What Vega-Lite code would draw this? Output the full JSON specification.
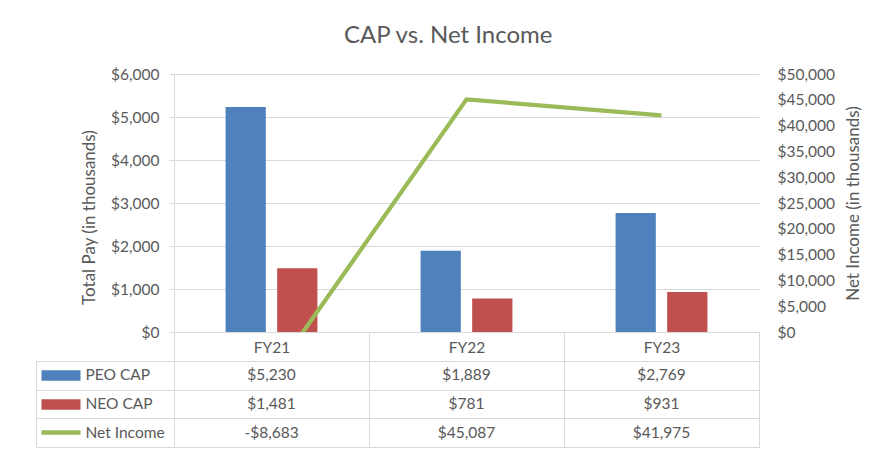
{
  "$schema": "https://vega.github.io/schema/vega-lite/v6.json",
  "padding": {"left": 35, "top": 24, "right": 5, "bottom": 5},
  "title": {"text": "CAP vs. Net Income", "fontSize": 24, "font": "Lato", "fontWeight": "normal", "color": "#595959", "anchor": "middle", "frame": "bounds", "offset": 19},
  "config": {
    "font": "Lato",
    "locale": {"number": {"decimal": ".", "thousands": ",", "grouping": [3], "currency": ["$", ""], "minus": "-"}},
    "axis": {"labelFont": "Lato", "titleFont": "Lato", "labelColor": "#595959", "titleColor": "#595959", "labelFontSize": 15.5, "titleFontSize": 17, "titleFontWeight": "normal", "domainColor": "#D9D9D9", "tickColor": "#D9D9D9", "gridColor": "#D9D9D9"}
  },
  "datasets": {
    "cap": [
      {"year": "FY21", "series": "PEO CAP", "value": 5230},
      {"year": "FY21", "series": "NEO CAP", "value": 1481},
      {"year": "FY21", "series": "Net Income", "value": -8683},
      {"year": "FY22", "series": "PEO CAP", "value": 1889},
      {"year": "FY22", "series": "NEO CAP", "value": 781},
      {"year": "FY22", "series": "Net Income", "value": 45087},
      {"year": "FY23", "series": "PEO CAP", "value": 2769},
      {"year": "FY23", "series": "NEO CAP", "value": 931},
      {"year": "FY23", "series": "Net Income", "value": 41975}
    ]
  },
  "spacing": 29,
  "bounds": "flush",
  "vconcat": [
    {
      "width": 585,
      "height": 258,
      "data": {"name": "cap"},
      "view": {"stroke": null},
      "layer": [
        {
          "transform": [{"filter": "datum.series !== 'Net Income'"}],
          "mark": {"type": "bar"},
          "encoding": {
            "x": {"field": "year", "type": "nominal", "scale": {"paddingInner": 0, "paddingOuter": 0},
                  "axis": {"title": null, "labelAngle": 0, "domain": true, "ticks": true, "tickBand": "extent", "tickSize": 29, "labelPadding": -14, "labelBaseline": "middle", "grid": false}},
            "xOffset": {"field": "series", "type": "nominal", "scale": {"domain": ["PEO CAP", "NEO CAP"], "paddingInner": 0.22, "paddingOuter": 1.06}},
            "y": {"field": "value", "type": "quantitative", "scale": {"domain": [0, 6000], "nice": false},
                  "axis": {"title": "Total Pay (in thousands)", "titleY": 143, "values": [0, 1000, 2000, 3000, 4000, 5000, 6000], "format": "$,.0f", "tickSize": 5, "labelPadding": 10, "titlePadding": 12, "grid": true, "domain": true}},
            "color": {"field": "series", "type": "nominal", "scale": {"domain": ["PEO CAP", "NEO CAP", "Net Income"], "range": ["#4F81BD", "#C0504D", "#9BBB59"]}, "legend": null}
          }
        },
        {
          "transform": [{"filter": "datum.series === 'Net Income'"}],
          "mark": {"type": "line", "clip": true, "color": "#9BBB59", "strokeWidth": 4.25},
          "encoding": {
            "x": {"field": "year", "type": "nominal"},
            "y": {"field": "value", "type": "quantitative", "scale": {"domain": [0, 50000], "nice": false},
                  "axis": {"orient": "right", "title": "Net Income (in thousands)", "titleAngle": 270, "values": [0, 5000, 10000, 15000, 20000, 25000, 30000, 35000, 40000, 45000, 50000], "format": "$,.0f", "ticks": false, "domain": false, "grid": false, "labelAlign": "left", "labelPadding": 18, "titlePadding": 28}}
          }
        }
      ],
      "resolve": {"scale": {"y": "independent"}}
    },
    {
      "width": 585,
      "height": 86,
      "data": {"name": "cap"},
      "view": {"stroke": "#D9D9D9"},
      "layer": [
        {
          "mark": {"type": "text", "fontSize": 15.5, "color": "#595959", "font": "Lato"},
          "encoding": {
            "x": {"field": "year", "type": "nominal", "scale": {"paddingInner": 0, "paddingOuter": 0},
                  "axis": {"title": null, "labels": false, "ticks": false, "domain": false, "grid": true, "tickBand": "extent"}},
            "y": {"field": "series", "type": "nominal", "scale": {"domain": ["PEO CAP", "NEO CAP", "Net Income"], "paddingInner": 0, "paddingOuter": 0},
                  "axis": {"orient": "left", "title": null, "offset": 94, "domain": false, "ticks": true, "tickBand": "center", "tickSize": 39, "grid": false,
                           "tickWidth": {"condition": {"test": "datum.value === 'Net Income'", "value": 4.5}, "value": 10.5},
                           "tickColor": {"condition": [{"test": "datum.value === 'PEO CAP'", "value": "#4F81BD"}, {"test": "datum.value === 'NEO CAP'", "value": "#C0504D"}], "value": "#9BBB59"},
                           "labelAlign": "left", "labelPadding": -44}},
            "text": {"field": "value", "type": "quantitative", "format": "$,.0f"}
          }
        },
        {
          "mark": {"type": "text", "text": ""},
          "encoding": {
            "y": {"field": "series", "type": "nominal",
                  "axis": {"orient": "left", "title": null, "offset": 138, "domain": true, "ticks": true, "tickBand": "extent", "tickSize": -138, "labels": false, "grid": true}}
          }
        }
      ],
      "resolve": {"axis": {"y": "independent"}}
    }
  ]
}
